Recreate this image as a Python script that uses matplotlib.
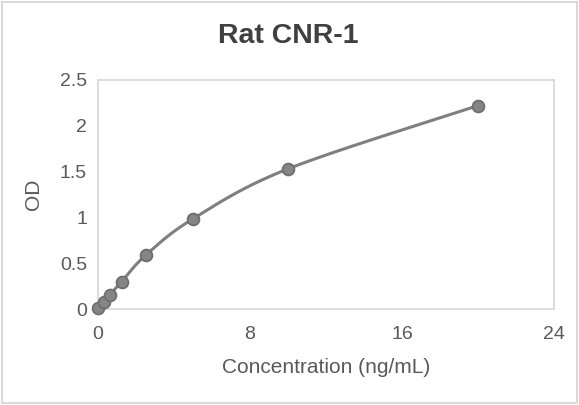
import numpy as np
import matplotlib
matplotlib.use("Agg")
import matplotlib.pyplot as plt
from matplotlib.patches import Rectangle

conc = [0, 0.3125, 0.625, 1.25, 2.5, 5, 10, 20]
od = [0.01, 0.08, 0.155, 0.30, 0.585, 0.985, 1.53, 2.22]
xticks = [0, 8, 16, 24]
yticks = [0, 0.5, 1, 1.5, 2, 2.5]
ytick_labels = ["0", "0.5", "1", "1.5", "2", "2.5"]

plt.rcParams['font.family'] = ['Liberation Sans', 'DejaVu Sans']
W, H = 579, 405
fig = plt.figure(figsize=(W/100, H/100), dpi=100)
fig.patch.set_facecolor('white')
fig.add_artist(Rectangle((1.5/W, 2/H), 1-3.5/W, 1-3.5/H, transform=fig.transFigure,
                         fill=False, edgecolor='#d9d9d9', linewidth=1.4))

left, right, top, bottom = 98, 554, 80, 309
ax = fig.add_axes([left/W, 1-bottom/H, (right-left)/W, (bottom-top)/H])
ax.set_xlim(0, 24)
ax.set_ylim(0, 2.5)
for s in ax.spines.values():
    s.set_color('#d9d9d9')
    s.set_linewidth(1.3)
ax.set_xticks(xticks)
ax.set_yticks(yticks)
ax.set_yticklabels(ytick_labels)
ax.tick_params(length=0, labelsize=14, colors='#595959', pad=8)
ax.tick_params(axis='x', pad=12)

# Smoothed line (Catmull-Rom / Bezier in display space)
fig.canvas.draw()
pts = ax.transData.transform(np.column_stack([conc, od]))
n = len(pts)
curve = []
t = np.linspace(0, 1, 30)
for i in range(n-1):
    p0 = pts[max(i-1, 0)]; p1 = pts[i]; p2 = pts[i+1]; p3 = pts[min(i+2, n-1)]
    c1 = p1 + (p2 - p0) / 6
    c2 = p2 - (p3 - p1) / 6
    seg = ((1-t)**3)[:, None]*p1 + (3*(1-t)**2*t)[:, None]*c1 + (3*(1-t)*t**2)[:, None]*c2 + (t**3)[:, None]*p2
    curve.append(seg)
curve = np.vstack(curve)
curve_d = ax.transData.inverted().transform(curve)
ax.plot(curve_d[:, 0], curve_d[:, 1], color='#7f7f7f', linewidth=2.2, clip_on=False, zorder=3)
ax.plot(conc, od, linestyle='none', marker='o', markersize=8.5, markerfacecolor='#858585',
        markeredgecolor='#6e6e6e', markeredgewidth=1.3, clip_on=False, zorder=4)

ax.set_xlabel('Concentration (ng/mL)', fontsize=15, color='#595959', labelpad=11)
ax.set_ylabel('OD', fontsize=15, color='#595959', labelpad=12)
fig.text(288/W, 1-36/H, 'Rat CNR-1', ha='center', va='center', fontsize=20.5,
         fontweight='bold', color='#404040')

fig.savefig('out.png', dpi=100, facecolor='white')
